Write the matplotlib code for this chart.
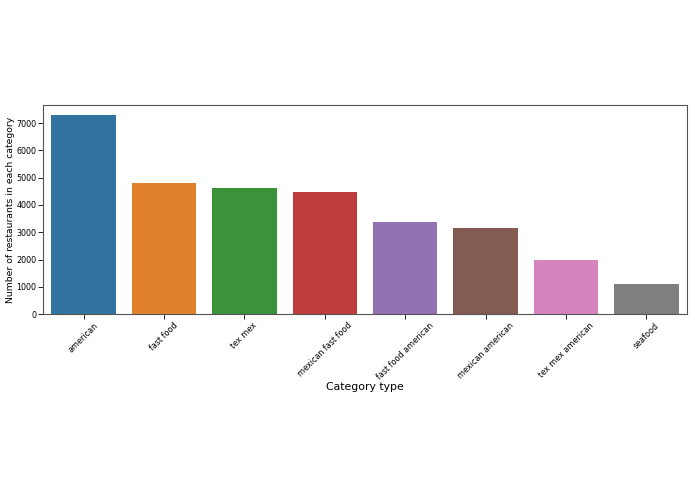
import matplotlib
matplotlib.use('Agg')
import matplotlib.pyplot as plt

# data
categories = ['american', 'fast food', 'tex mex', 'mexican fast food',
              'fast food american', 'mexican american', 'tex mex american', 'seafood']
counts = [7290, 4800, 4630, 4470, 3370, 3175, 1990, 1100]

# seaborn default palette, desaturated like sns.barplot
colors = ['#3274a1', '#e1812c', '#3a923a', '#c03d3e',
          '#9372b2', '#845b53', '#d684bd', '#7f7f7f']

fig = plt.figure(figsize=(6.95, 4.94), dpi=100)
ax = fig.add_axes([0.0623, 0.3638, 0.9257, 0.4231])

x = range(len(categories))
ax.bar(x, counts, width=0.8, color=colors)
ax.set_xlim(-0.5, len(categories) - 0.5)
ax.set_ylim(0, 7650)
ax.set_xticks(list(x))
ax.set_xticklabels(categories, rotation=45, fontsize=5.8)
ax.tick_params(axis='y', labelsize=5.8)
ax.tick_params(length=3.5, width=0.6, pad=1.5)
for s in ax.spines.values():
    s.set_color('#555555')
    s.set_linewidth(0.8)

ax.set_ylabel('Number of restaurants in each category', fontsize=6.7, labelpad=1)
ax.set_xlabel('Category type', fontsize=7.8, labelpad=0)

fig.savefig('out.png', dpi=100)
